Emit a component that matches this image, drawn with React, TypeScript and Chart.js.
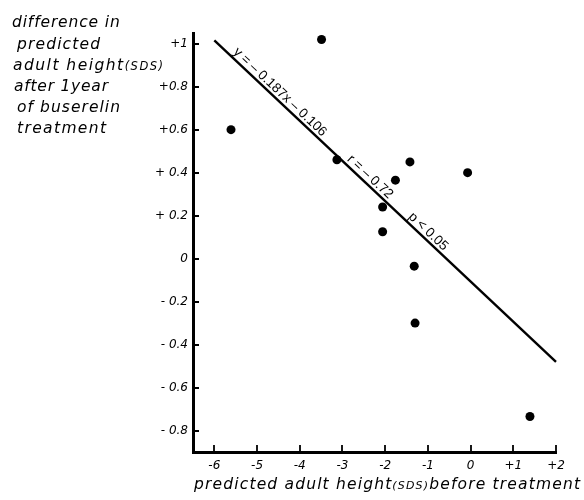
import React, { useEffect, useRef } from "react";
import { Chart, registerables } from "chart.js";

Chart.register(...registerables);

// Scatter data (predicted adult height SDS before treatment vs. difference after 1 year)
const xValues = [-3.49, -5.61, -3.13, -1.42, -0.07, -1.76, -2.06, -2.06, -1.32, -1.3, 1.39];
const yValues = [1.02, 0.6, 0.46, 0.45, 0.4, 0.365, 0.24, 0.125, -0.035, -0.3, -0.735];

// Regression line end points
const fitX = [-6, 2];
const fitY = [1.016, -0.48];

// Ticks
const xTickValues = [-6, -5, -4, -3, -2, -1, 0, 1, 2];
const xTickLabels = ["-6", "-5", "-4", "-3", "-2", "-1", "0", "+1", "+2"];
const yTickValues = [-0.8, -0.6, -0.4, -0.2, 0, 0.2, 0.4, 0.6, 0.8, 1];
const yTickLabels = ["- 0.8", "- 0.6", "- 0.4", "- 0.2", "0", "+ 0.2", "+ 0.4", "+0.6", "+0.8", "+1"];

// Labels along the regression line (position given as x value on the line)
const fitLabels = ["y = – 0.187x – 0.106", "r = – 0.72", "p < 0.05"];
const fitLabelX = [-4.58, -2.47, -1.11];

// Axis titles (segments: [text, small?])
const yTitleLines: [string, boolean][][] = [
  [["difference in", false]],
  [["predicted", false]],
  [["adult height", false], ["(SDS)", true]],
  [["after 1year", false]],
  [["of buserelin", false]],
  [["treatment", false]],
];
const xTitle: [string, boolean][] = [
  ["predicted adult height", false],
  ["(SDS)", true],
  ["before treatment", false],
];

const FONT = "'Liberation Sans', Arial, sans-serif";
const TITLE_FONT = "'DejaVu Sans', sans-serif";

function drawFitted(
  ctx: CanvasRenderingContext2D,
  segs: [string, boolean][],
  x: number,
  baseline: number,
  target: number,
  size: number,
  smallSize: number
) {
  ctx.save();
  ctx.textAlign = "left";
  ctx.textBaseline = "alphabetic";
  let natural = 0;
  let chars = 0;
  for (const [t, small] of segs) {
    ctx.font = `oblique ${small ? smallSize : size}px ${TITLE_FONT}`;
    natural += ctx.measureText(t).width;
    chars += t.length;
  }
  const ls = chars > 1 ? (target - natural) / (chars - 1) : 0;
  let cx = x;
  segs.forEach(([t, small]) => {
    ctx.font = `oblique ${small ? smallSize : size}px ${TITLE_FONT}`;
    let cursor = cx;
    for (const ch of t) {
      ctx.fillText(ch, cursor, baseline);
      cursor += ctx.measureText(ch).width + ls;
    }
    cx = cursor;
  });
  ctx.restore();
}

const decorPlugin = {
  id: "decor",
  afterDraw(chart: any) {
    const ctx: CanvasRenderingContext2D = chart.ctx;
    const xs = chart.scales.x;
    const ys = chart.scales.y;
    const area = chart.chartArea;
    ctx.save();
    ctx.strokeStyle = "#000";
    ctx.fillStyle = "#000";
    ctx.lineWidth = 1.8;
    // inward tick marks
    ctx.beginPath();
    for (const v of yTickValues) {
      const py = Math.round(ys.getPixelForValue(v));
      ctx.moveTo(area.left, py);
      ctx.lineTo(area.left + 6, py);
    }
    for (const v of xTickValues) {
      const px = Math.round(xs.getPixelForValue(v));
      ctx.moveTo(px, area.bottom);
      ctx.lineTo(px, area.bottom - 7);
    }
    ctx.stroke();

    // labels along the fit line
    const x1 = xs.getPixelForValue(fitX[0]);
    const y1 = ys.getPixelForValue(fitY[0]);
    const x2 = xs.getPixelForValue(fitX[1]);
    const y2 = ys.getPixelForValue(fitY[1]);
    const ang = Math.atan2(y2 - y1, x2 - x1);
    ctx.font = `13.5px ${FONT}`;
    ctx.textAlign = "center";
    ctx.textBaseline = "alphabetic";
    fitLabels.forEach((txt, i) => {
      const t = (fitLabelX[i] - fitX[0]) / (fitX[1] - fitX[0]);
      const px = x1 + t * (x2 - x1);
      const py = y1 + t * (y2 - y1);
      ctx.save();
      ctx.translate(px, py);
      ctx.rotate(ang);
      ctx.fillText(txt, 0, -3.5);
      ctx.restore();
    });
    ctx.restore();

    // axis titles
    ctx.save();
    ctx.fillStyle = "#000";
    const yLeft = [12, 17, 13, 14, 17, 17];
    const yBase = [27, 48.5, 69.5, 91, 112, 133];
    const yWidth = [108, 83, 150, 94, 103, 89];
    yTitleLines.forEach((segs, i) => {
      drawFitted(ctx, segs, yLeft[i], yBase[i], yWidth[i], 15.5, 11.5);
    });
    drawFitted(ctx, xTitle, 194, 488.5, 386, 15.5, 11);
    ctx.restore();
  },
};

export default function App() {
  const ref = useRef<HTMLCanvasElement | null>(null);
  useEffect(() => {
    if (!ref.current) return;
    const points = xValues.map((x, i) => ({ x, y: yValues[i] }));
    const line = fitX.map((x, i) => ({ x, y: fitY[i] }));
    const tickFont = { family: TITLE_FONT, style: "oblique" as any, size: 12 };
    const chart = new Chart(ref.current, {
      type: "scatter",
      data: {
        datasets: [
          {
            type: "line",
            data: line,
            borderColor: "#000",
            borderWidth: 2.4,
            pointRadius: 0,
            showLine: true,
            fill: false,
            clip: false as any,
          },
          {
            data: points,
            backgroundColor: "#000",
            borderColor: "#000",
            pointRadius: 4.5,
            pointBorderWidth: 0,
            clip: false as any,
          },
        ],
      },
      options: {
        animation: false,
        responsive: false,
        layout: { padding: { top: 33, right: 28, bottom: 0, left: 0 } },
        plugins: { legend: { display: false }, tooltip: { enabled: false } },
        scales: {
          x: {
            type: "linear",
            min: -6.5,
            max: 2,
            afterFit: (s: any) => {
              s.height = 48;
            },
            afterBuildTicks: (s: any) => {
              s.ticks = xTickValues.map((value) => ({ value }));
            },
            ticks: {
              font: tickFont,
              color: "#000",
              padding: 7,
              maxRotation: 0,
              minRotation: 0,
              autoSkip: false,
              callback: (v: any) => {
                const i = xTickValues.findIndex((t) => Math.abs(t - v) < 1e-6);
                return i >= 0 ? xTickLabels[i] : "";
              },
            },
            grid: { display: false, drawTicks: false },
            border: { display: true, color: "#000", width: 3 },
          },
          y: {
            type: "linear",
            min: -0.9,
            max: 1.05,
            afterFit: (s: any) => {
              s.width = 193;
            },
            afterBuildTicks: (s: any) => {
              s.ticks = yTickValues.map((value) => ({ value }));
            },
            ticks: {
              font: tickFont,
              color: "#000",
              padding: 5,
              autoSkip: false,
              callback: (v: any) => {
                const i = yTickValues.findIndex((t) => Math.abs(t - v) < 1e-6);
                return i >= 0 ? yTickLabels[i] : "";
              },
            },
            grid: { display: false, drawTicks: false },
            border: { display: true, color: "#000", width: 3 },
          },
        },
      },
      plugins: [decorPlugin],
    });
    return () => chart.destroy();
  }, []);
  return (
    <div style={{ position: "fixed", left: 0, top: 0, width: 584, height: 500, background: "#fff" }}>
      <canvas ref={ref} width={584} height={500} style={{ width: 584, height: 500, display: "block" }} />
    </div>
  );
}
